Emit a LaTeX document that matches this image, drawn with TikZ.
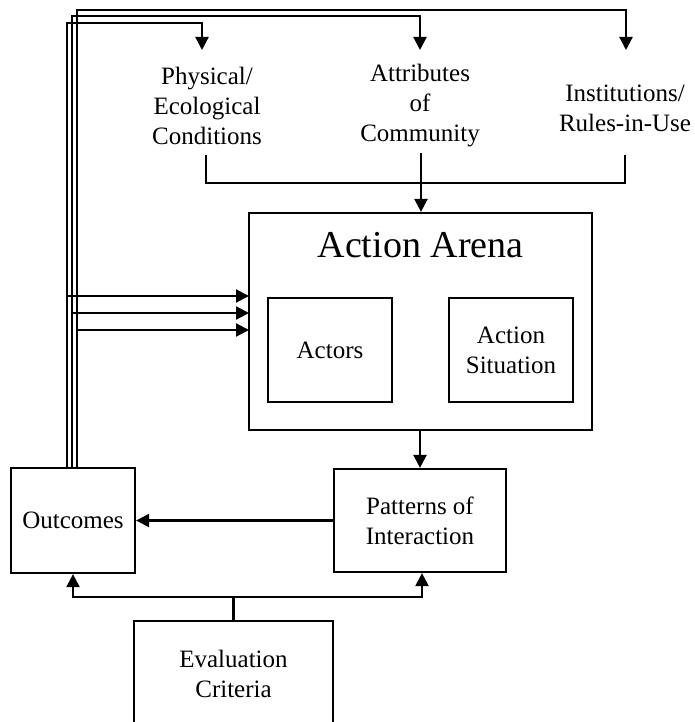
\documentclass[tikz,border=0pt]{standalone}
\usepackage{fontspec}
\setmainfont{Liberation Serif}
\usetikzlibrary{arrows.meta}
\begin{document}
\begin{tikzpicture}[x=1pt,y=-1pt,
  box/.style={draw,line width=2.2pt,inner sep=0pt,align=center,
    font=\fontsize{25}{30}\selectfont},
  lbl/.style={inner sep=0pt,align=center,font=\fontsize{25}{30}\selectfont},
  wire/.style={line width=2.2pt},
  arr/.style={wire,-{Triangle[length=13pt,width=13pt]}}]
  \clip (0,0) rectangle (694,722);
  \fill[white] (0,0) rectangle (694,722);

  % exogenous variables
  \node[lbl] (phys) at (207,106) {Physical/\\Ecological\\Conditions};
  \node[lbl] (attr) at (420,106) {Attributes\\of\\Community};
  \node[lbl] (inst) at (625,108) {Institutions/\\Rules-in-Use};

  % action arena with its two components
  \node[box,minimum width=343pt,minimum height=217pt] (arena) at (420.5,321.5) {};
  \node[inner sep=0pt,font=\fontsize{38}{44}\selectfont] (arenatitle) at (420.5,245) {Action Arena};
  \node[box,minimum width=124pt,minimum height=104pt] (actors) at (330,350) {Actors};
  \node[box,minimum width=124pt,minimum height=104pt] (situation) at (511,350) {Action\\Situation};

  % results and evaluation
  \node[box,minimum width=172pt,minimum height=103pt] (patterns) at (420,520.5) {Patterns of\\Interaction};
  \node[box,minimum width=124pt,minimum height=105pt] (outcomes) at (73,520.5) {Outcomes};
  \node[box,minimum width=199pt,minimum height=106pt] (eval) at (233.5,674) {Evaluation\\Criteria};

  % arrow tips above the exogenous variables
  \coordinate (physin) at (202,50);
  \coordinate (attrin) at (420,50);
  \coordinate (instin) at (626,50);

  % feedback lines leaving the outcomes box
  \coordinate (f1) at (67,468);
  \coordinate (f2) at (72,468);
  \coordinate (f3) at (77,468);
  \coordinate (t1) at (67,23);
  \coordinate (t2) at (72,16);
  \coordinate (t3) at (77,10);
  \draw[arr] (f1) -- (t1) -| (physin);
  \draw[arr] (f2) -- (t2) -| (attrin);
  \draw[arr] (f3) -- (t3) -| (instin);

  % feedback into the action arena
  \coordinate (a1) at (249,296);
  \coordinate (a2) at (249,313);
  \coordinate (a3) at (249,330);
  \draw[arr] (f1 |- a1) -- (a1);
  \draw[arr] (f2 |- a2) -- (a2);
  \draw[arr] (f3 |- a3) -- (a3);

  % bracket joining the exogenous variables
  \coordinate (bl) at (206,155);
  \coordinate (br) at (625,155);
  \coordinate (bm) at (421,153);
  \draw[wire] (bl) -- ++(0,28) -| (br);
  \draw[arr] (bm) -- (arena.north -| bm);

  % arena to patterns to outcomes
  \draw[arr] (arena.south -| patterns.north) -- (patterns.north);
  \draw[arr] (patterns.west) -- (outcomes.east);

  % evaluation criteria feeding both
  \coordinate (ej) at (233.5,597);
  \draw[wire] (eval.north) -- (ej);
  \draw[arr] (ej) -| (outcomes.south);
  \draw[arr] (ej) -| ([xshift=2pt]patterns.south);
\end{tikzpicture}
\end{document}
